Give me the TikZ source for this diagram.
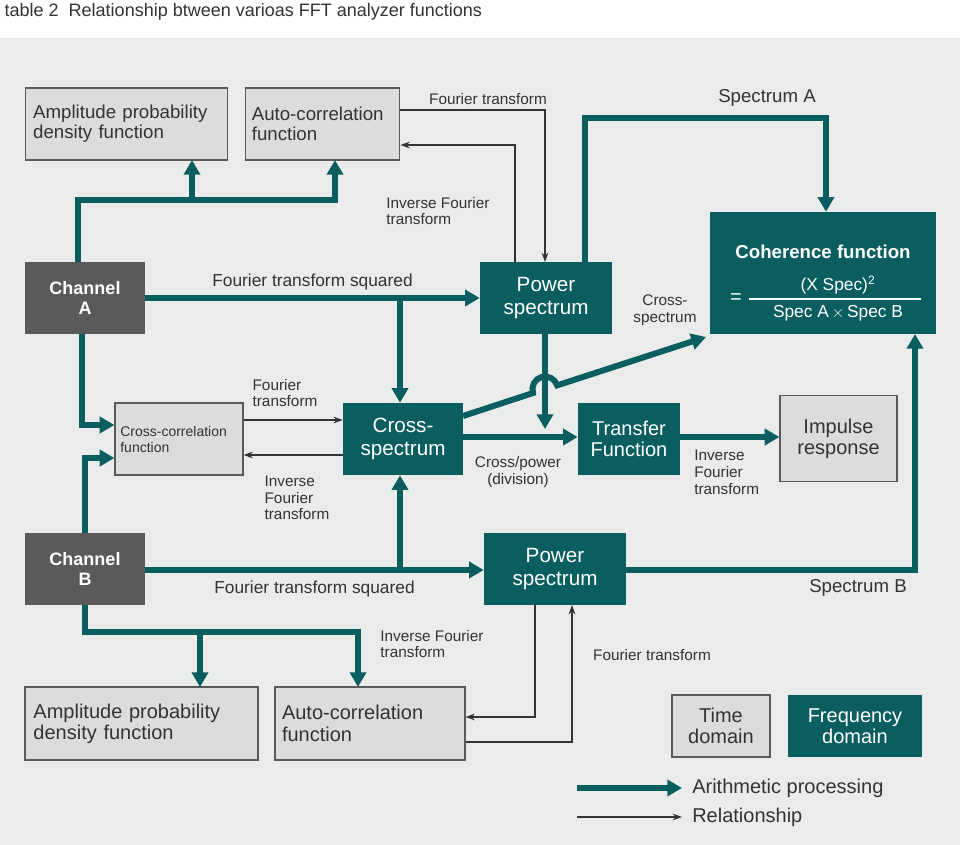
\documentclass[tikz,border=0pt]{standalone}
\usepackage{fontspec}
\setmainfont{Liberation Sans}
\usetikzlibrary{arrows.meta}
\definecolor{teal1}{HTML}{0A5E60}
\definecolor{bg}{HTML}{E9ECEA}
\definecolor{gbox}{HTML}{DCDCDC}
\definecolor{dgray}{HTML}{5A5A5A}
\definecolor{txt}{HTML}{333333}
\begin{document}
\begin{tikzpicture}[x=0.75pt,y=-0.75pt,
 gb/.style={draw=dgray,line width=0.9pt,fill=gbox,text=txt,align=left,inner sep=0pt,font=\fontsize{14}{15}\selectfont},
 ch/.style={fill=dgray,text=white,align=center,font=\bfseries\fontsize{13.5}{15}\selectfont,minimum width=90pt,minimum height=54pt},
 fb/.style={fill=teal1,text=white,align=center,font=\fontsize{15}{16}\selectfont,inner sep=0pt},
 thick/.style={draw=teal1,line width=4.5pt,-{Triangle[length=11pt,width=12pt]}},
 thin/.style={draw=txt,line width=0.8pt,-{Stealth[length=7pt,width=5pt]}},
 lab/.style={text=txt,font=\fontsize{11.5}{12.5}\selectfont,align=left,inner sep=0pt},
 blab/.style={text=txt,font=\fontsize{14}{15}\selectfont,inner sep=0pt},
 wt/.style={text=white,inner sep=0pt,font=\fontsize{13}{14}\selectfont}]
\useasboundingbox (0,0) rectangle (960,845);
\fill[white] (0,0) rectangle (960,845);
\fill[bg] (0,38) rectangle (960,845);
\node[anchor=west,text=txt,font=\fontsize{13.5}{15}\selectfont] (title) at (0,12) {table 2\ \ Relationship btween varioas FFT analyzer functions};
% boxes
\node[gb,minimum width=152pt,minimum height=54pt,text width=140pt] (apdfA) at (126.5,124) {Amplitude probability\\density function};
\node[gb,minimum width=116pt,minimum height=54pt,text width=106pt] (acA) at (322.5,124) {Auto-correlation\\function};
\node[ch] (chA) at (85,298) {Channel\\A};
\node[fb,minimum width=99pt,minimum height=54pt,font=\fontsize{15.5}{17}\selectfont] (psA) at (546,298) {Power\\spectrum};
\node[fb,minimum width=169.5pt,minimum height=91.5pt] (coh) at (823,273) {};
\node[text=white,font=\bfseries\fontsize{14}{15}\selectfont] (cohT) at (823,252) {Coherence function};
\node[wt] (cohN) at (838,285) {(X Spec)\textsuperscript{2}};
\node[wt] (cohD) at (838,313) {Spec A\,$\times$\,Spec B};
\node[wt,font=\fontsize{15}{16}\selectfont] (cohE) at (736,299) {=};
\draw[white,line width=0.9pt] (749,299) -- (921,299);
\node[gb,minimum width=96pt,minimum height=54pt,text width=88pt,font=\fontsize{10.5}{12}\selectfont] (cc) at (179,439) {Cross-correlation\\function};
\node[fb,minimum width=90pt,minimum height=54pt,font=\fontsize{15.5}{17}\selectfont] (cs) at (403,439) {Cross-\\spectrum};
\node[fb,minimum width=76.5pt,minimum height=54pt] (tf) at (629,439) {Transfer\\Function};
\node[gb,minimum width=87.75pt,minimum height=65pt,align=center,font=\fontsize{15}{16}\selectfont] (imp) at (838.5,438.5) {Impulse\\response};
\node[ch] (chB) at (85,569) {Channel\\B};
\node[fb,minimum width=106.5pt,minimum height=54pt,font=\fontsize{15.5}{17}\selectfont] (psB) at (555,569) {Power\\spectrum};
\node[gb,minimum width=174.75pt,minimum height=54.75pt,text width=162pt,font=\fontsize{15}{16}\selectfont] (apdfB) at (141.5,723.5) {Amplitude probability\\density function};
\node[gb,minimum width=142.5pt,minimum height=54.75pt,text width=132pt,font=\fontsize{15}{16}\selectfont] (acB) at (370,723.5) {Auto-correlation\\function};
\node[gb,minimum width=73.5pt,minimum height=46.5pt,font=\fontsize{15}{16}\selectfont,align=center] (td) at (721,726) {Time\\domain};
\node[fb,minimum width=100.5pt,minimum height=46.5pt,font=\fontsize{15}{16}\selectfont] (fd) at (855,726) {Frequency\\domain};
% thick arrows channel A
\draw[thick] (chA.north -| 78,0) |- (335,200) -- (335,160);
\draw[thick] (192,200) -- (192,160);
\draw[thick] (chA.east) -- (psA.west) node[pos=0.5,above=4pt,blab,font=\fontsize{13}{14}\selectfont]{Fourier transform squared};
\draw[thick] (400,298) -- (cs.north -| 400,0);
\draw[thick] (82,334) |- (cc.west |- 0,425);
% channel B
\draw[thick] (85,533) |- (cc.west |- 0,458);
\draw[thick] (chB.east |- 0,570) -- (psB.west |- 0,570) node[pos=0.5,below=6pt,blab,font=\fontsize{13}{14}\selectfont]{Fourier transform squared};
\draw[thick] (400,570) -- (cs.south -| 400,0);
\draw[thick] (85,605) |- (358,632) -- (358,687);
\draw[thick] (200,632) -- (200,687);
% spectrum A / B
\draw[thick] (585,262) |- (826,118) -- (coh.north -| 826,0);
\node[blab] (specA) at (767,98) {Spectrum A};
\draw[thick] (psB.east |- 0,570) -| (915,334);
\node[blab] (specB) at (858,588) {Spectrum B};
% cross spectrum to transfer, psA down
\draw[thick] (cs.east |- 0,437) -- (tf.west |- 0,437);
\draw[thick] (545,334) -- (545,429);
\node[lab,align=center] (cpd) at (518,472) {Cross/power\\(division)};
\draw[thick] (tf.east |- 0,437) -- (imp.west |- 0,437);
\node[lab,anchor=north west] (ift3) at (694,450) {Inverse\\Fourier\\transform};
% hop line
\draw[draw=teal1,line width=4.5pt,-{Triangle[length=11pt,width=12pt]}]
 (463,416) -- (533,393.0) arc[start angle=197.6,end angle=17.6,radius=9.5pt] -- (706,337);
\node[lab,align=center] (csl) at (665,310) {Cross-\\spectrum};
% thin arrows
\draw[thin] (acA.east |- 0,110) -| (545,262);
\node[lab] (ftA) at (488,99) {Fourier transform};
\draw[thin] (515,262) |- (acA.east |- 0,145);
\node[lab] (iftA) at (438,211) {Inverse Fourier\\transform};
\draw[thin] (cc.east |- 0,420) -- (cs.west |- 0,420);
\node[lab] (ftc) at (285,393) {Fourier\\transform};
\draw[thin] (cs.west |- 0,455) -- (cc.east |- 0,455);
\node[lab] (iftc) at (297,498) {Inverse\\Fourier\\transform};
\draw[thin] (535,605) |- (acB.east |- 0,717);
\node[lab] (iftB) at (432,644) {Inverse Fourier\\transform};
\draw[thin] (acB.east |- 0,742) -| (572,605);
\node[lab] (ftB) at (652,655) {Fourier transform};
% legend
\coordinate (l1) at (577,788); \coordinate (l2) at (682,788);
\draw[thick] (l1) -- (l2);
\node[blab,anchor=west,font=\fontsize{15}{16}\selectfont] (lt1) at (692,788) {Arithmetic processing};
\coordinate (l3) at (577,817); \coordinate (l4) at (682,817);
\draw[thin] (l3) -- (l4);
\node[blab,anchor=west,font=\fontsize{15}{16}\selectfont] (lt2) at (692,817) {Relationship};
\end{tikzpicture}
\end{document}
